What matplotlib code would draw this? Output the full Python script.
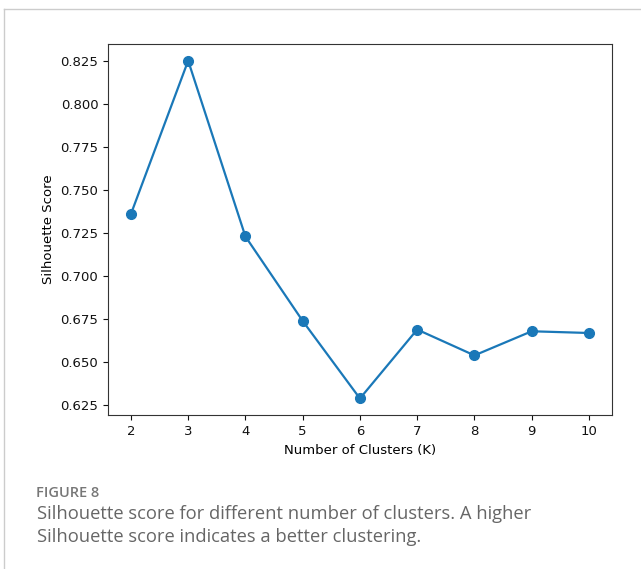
import matplotlib
matplotlib.use("Agg")
import matplotlib.pyplot as plt
from matplotlib.lines import Line2D

# silhouette score per number of clusters
clusters = [2, 3, 4, 5, 6, 7, 8, 9, 10]
scores = [0.736, 0.825, 0.723, 0.674, 0.629, 0.669, 0.654, 0.668, 0.667]
yticks = [0.625, 0.650, 0.675, 0.700, 0.725, 0.750, 0.775, 0.800, 0.825]

fig = plt.figure(figsize=(6.41, 5.69), dpi=100)
ax = fig.add_axes([0.1685, 0.270, 0.786, 0.653])

ax.plot(clusters, scores, '-o', color='#1a78b8', linewidth=1.6, markersize=7)
ax.set_xticks(clusters)
ax.set_yticks(yticks)
ax.set_yticklabels([f'{v:.3f}' for v in yticks])
ax.tick_params(labelsize=9.5, colors='#111111')
ax.set_xlabel('Number of Clusters (K)', fontsize=9.5)
ax.set_ylabel('Silhouette Score', fontsize=9.5)
for s in ax.spines.values():
    s.set_color('#333333')

# panel frame
fig.add_artist(Line2D([4/641, 1], [1 - 9/569, 1 - 9/569], color='#cccccc', lw=1, transform=fig.transFigure))
fig.add_artist(Line2D([4/641, 4/641], [0, 1 - 9/569], color='#cccccc', lw=1, transform=fig.transFigure))

fig.text(36/641, 1 - 493/569, 'FIGURE 8', fontsize=10.5, color='#777777', family='Open Sans',
         weight='semibold', va='center')
fig.text(37/641, 1 - 514/569, 'Silhouette score for different number of clusters. A higher',
         fontsize=13.2, color='#666666', family='Open Sans', va='center')
fig.text(37/641, 1 - 537/569, 'Silhouette score indicates a better clustering.',
         fontsize=13.2, color='#666666', family='Open Sans', va='center')

fig.savefig('out.png', dpi=100)
